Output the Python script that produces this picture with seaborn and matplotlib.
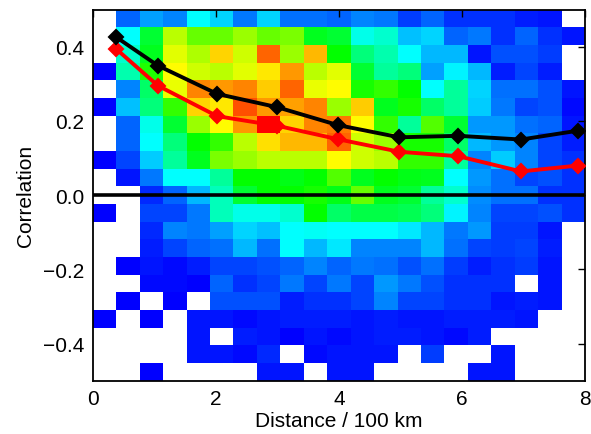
import numpy as np
import pandas as pd
import matplotlib
matplotlib.use("Agg")
import matplotlib.pyplot as plt
from matplotlib.colors import LinearSegmentedColormap
import seaborn as sns

N = None  # empty bin (drawn white)

# 2-D histogram of correlation vs distance: 21 distance bins (0..8) x 21 correlation bins
# rows listed from top (corr = +0.5) to bottom (corr = -0.5); values are relative density 0..1
density_upper = [
    [N, 0.10, 0.16, 0.13, 0.25, 0.21, 0.12, 0.21, 0.11, 0.11, 0.10, 0.13, 0.12, 0.06, 0.10, 0.05, 0.05, 0.05, 0.03, 0.02, N],
    [N, 0.25, 0.45, 0.68, 0.60, 0.60, 0.65, 0.60, 0.62, 0.47, 0.45, 0.27, 0.30, 0.19, 0.21, 0.10, 0.12, 0.05, 0.10, 0.05, 0.02],
    [N, 0.30, 0.47, 0.72, 0.67, 0.79, 0.70, 0.90, 0.65, 0.82, 0.50, 0.38, 0.33, 0.25, 0.18, 0.18, 0.02, 0.08, 0.08, 0.06, N],
    [0.0, 0.33, 0.53, 0.75, 0.70, 0.68, 0.72, 0.77, 0.85, 0.68, 0.72, 0.45, 0.35, 0.38, 0.16, 0.24, 0.18, 0.03, 0.07, 0.03, N],
    [N, 0.13, 0.40, 0.73, 0.87, 0.85, 0.87, 0.80, 0.90, 0.73, 0.75, 0.52, 0.55, 0.50, 0.25, 0.35, 0.21, 0.11, 0.11, 0.08, 0.02],
    [0.0, 0.19, 0.38, 0.55, 0.79, 0.77, 0.92, 0.85, 0.84, 0.87, 0.65, 0.80, 0.47, 0.52, 0.40, 0.35, 0.20, 0.12, 0.07, 0.08, 0.01],
    [N, 0.10, 0.27, 0.45, 0.65, 0.75, 0.85, 1.00, 0.79, 0.87, 0.88, 0.75, 0.55, 0.35, 0.58, 0.45, 0.15, 0.15, 0.11, 0.10, 0.02],
    [N, 0.10, 0.25, 0.38, 0.50, 0.55, 0.68, 0.78, 0.82, 0.82, 0.90, 0.70, 0.65, 0.52, 0.52, 0.40, 0.18, 0.15, 0.13, 0.07, 0.03],
    [0.0, 0.07, 0.20, 0.35, 0.47, 0.62, 0.65, 0.68, 0.68, 0.68, 0.75, 0.70, 0.68, 0.55, 0.55, 0.35, 0.13, 0.20, 0.13, 0.07, 0.05],
    [N, 0.02, 0.12, 0.25, 0.25, 0.35, 0.50, 0.50, 0.48, 0.50, 0.58, 0.47, 0.50, 0.48, 0.47, 0.25, 0.15, 0.11, 0.07, 0.08, 0.05],
]
density_middle = [
    [N, N, 0.04, 0.10, 0.18, 0.32, 0.45, 0.50, 0.50, 0.52, 0.48, 0.60, 0.47, 0.45, 0.35, 0.30, 0.14, 0.11, 0.11, 0.05, 0.05],
]
density_lower = [
    [0.0, N, 0.07, 0.07, 0.12, 0.32, 0.27, 0.27, 0.30, 0.50, 0.40, 0.43, 0.43, 0.42, 0.38, 0.24, 0.13, 0.07, 0.07, 0.08, 0.05],
    [N, N, 0.04, 0.13, 0.12, 0.16, 0.21, 0.19, 0.25, 0.26, 0.25, 0.25, 0.25, 0.23, 0.18, 0.12, 0.15, 0.06, 0.06, 0.02, N],
    [N, N, 0.03, 0.07, 0.10, 0.11, 0.18, 0.11, 0.25, 0.18, 0.23, 0.13, 0.13, 0.13, 0.18, 0.11, 0.07, 0.06, 0.07, 0.03, N],
    [N, 0.0, 0.02, 0.01, 0.03, 0.07, 0.07, 0.08, 0.10, 0.13, 0.10, 0.12, 0.11, 0.08, 0.11, 0.06, 0.03, 0.05, 0.06, 0.02, N],
    [N, N, 0.01, 0.01, 0.0, 0.10, 0.05, 0.07, 0.12, 0.07, 0.12, 0.07, 0.15, 0.12, 0.08, 0.05, 0.05, 0.05, N, 0.02, N],
    [N, 0.0, N, 0.0, N, 0.08, 0.08, 0.08, 0.03, 0.05, 0.05, 0.07, 0.13, 0.07, 0.07, 0.05, 0.05, 0.02, 0.03, 0.02, N],
    [0.0, N, 0.0, N, 0.02, 0.02, 0.01, 0.02, 0.03, 0.03, 0.03, 0.02, 0.03, 0.02, 0.02, 0.03, 0.03, 0.03, 0.02, N, N],
    [N, N, N, N, 0.02, N, 0.03, 0.02, 0.0, 0.02, 0.01, 0.02, 0.03, 0.03, 0.02, 0.01, 0.03, N, N, N, N],
    [N, N, N, N, 0.02, 0.02, 0.01, 0.04, N, 0.01, 0.02, 0.02, 0.02, N, 0.06, N, N, 0.02, N, N, N],
    [N, N, 0.0, N, N, N, N, 0.02, 0.02, N, 0.02, 0.02, N, N, N, N, 0.02, 0.02, N, N, N],
]

# binned mean curves
dist_bins = [0.38, 1.06, 2.02, 3.00, 3.98, 4.98, 5.94, 6.96, 7.89]
corr_black = [0.426, 0.349, 0.273, 0.237, 0.189, 0.156, 0.160, 0.150, 0.174]
corr_red = [0.394, 0.295, 0.213, 0.187, 0.151, 0.117, 0.105, 0.064, 0.080]

x_ticks = [0, 2, 4, 6, 8]
y_ticks = [-0.4, -0.2, 0.0, 0.2, 0.4]
x_range = (0, 8)
y_range = (-0.5, 0.5)

sns.set_style("white")
plt.rcParams['font.family'] = ['Liberation Sans', 'DejaVu Sans']
plt.rcParams['axes.unicode_minus'] = True

fig = plt.figure(figsize=(5.91, 4.35), dpi=100)
pos = [0.157, 0.1225, 0.833, 0.853]

# heatmap layer
ax_bg = fig.add_axes(pos)
grid = np.array(density_upper + density_middle + density_lower, dtype=float)
cmap = LinearSegmentedColormap.from_list(
    "rainbow_idl", ["#0000ff", "#00ffff", "#00ff00", "#ffff00", "#ff0000"])
sns.heatmap(grid, ax=ax_bg, cmap=cmap, vmin=0, vmax=1, cbar=False,
            xticklabels=False, yticklabels=False)
ax_bg.set_axis_off()

# data axes on top
ax = fig.add_axes(pos)
ax.patch.set_alpha(0)
ax.set_xlim(*x_range)
ax.set_ylim(*y_range)
ax.axhline(0, color='black', lw=2.6, zorder=2)

df = pd.DataFrame({"dist": dist_bins, "black": corr_black, "red": corr_red})
sns.lineplot(data=df, x="dist", y="red", ax=ax, color='red', lw=2.8,
             marker='D', markersize=7, markeredgecolor='red', markeredgewidth=1.5, zorder=3)
sns.lineplot(data=df, x="dist", y="black", ax=ax, color='black', lw=2.8,
             marker='D', markersize=7, markeredgecolor='black', markeredgewidth=1.5, zorder=4)

ax.set_xticks(x_ticks)
ax.set_yticks(y_ticks)
ax.tick_params(direction='in', length=5, width=1, labelsize=15, colors='black',
               top=True, right=True, pad=6)
for s in ax.spines.values():
    s.set_visible(True)
    s.set_color('black')
    s.set_linewidth(1.3)
ax.set_xlabel("Distance / 100 km", fontsize=15, color='black', labelpad=2)
ax.set_ylabel("Correlation", fontsize=15, color='black', labelpad=6)

fig.savefig("out.png", dpi=100)
